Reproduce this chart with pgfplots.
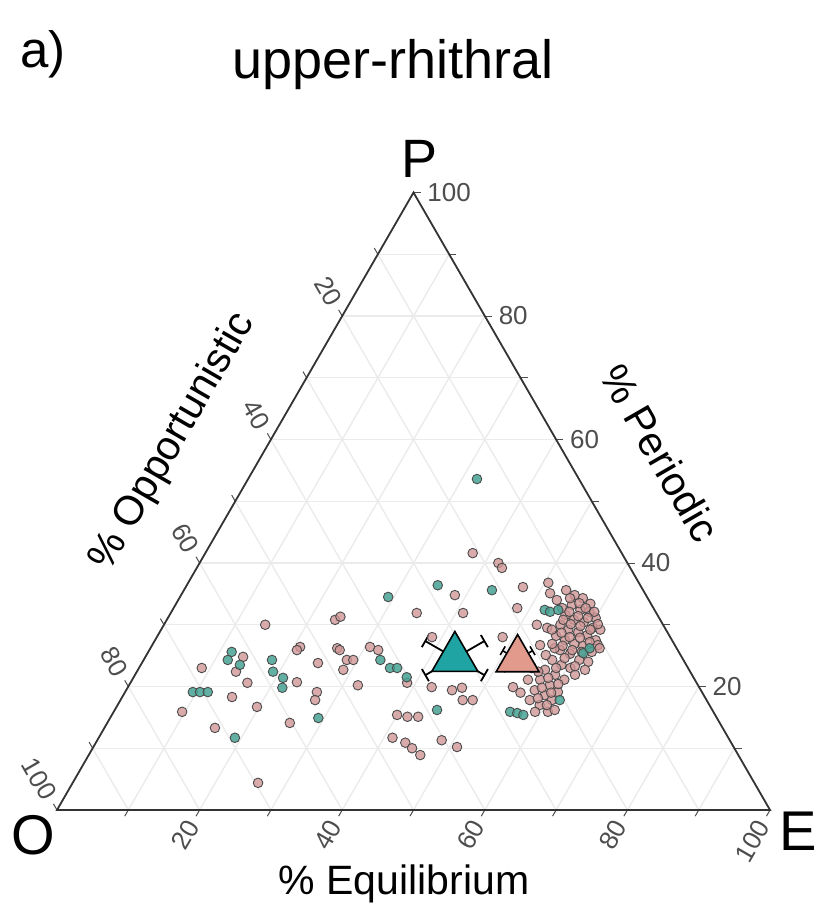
\documentclass[border=0pt]{standalone}
\usepackage{fontspec}
\setmainfont{Liberation Sans}
\usepackage{pgfplots}
\usepackage{pgfplotstable}
\usetikzlibrary{arrows.meta}
\pgfplotsset{compat=1.18}
\definecolor{tealpt}{HTML}{45A293}
\definecolor{pinkpt}{HTML}{D09696}
\definecolor{tealtri}{HTML}{1FA3A3}
\definecolor{pinktri}{HTML}{E29A8C}
\definecolor{gridc}{HTML}{EBEBEB}
\definecolor{tickc}{HTML}{4D4D4D}
\definecolor{edgec}{HTML}{333333}
\pgfplotsset{table/tern/.style={x expr={\thisrow{E}+0.5*\thisrow{P}}, y expr={0.8660254*\thisrow{P}}}}
\tikzset{ticklab/.style={font=\fontsize{13}{15}\selectfont, text=tickc, inner sep=0pt}}

% ternary compositions in percent: E = Equilibrium, P = Periodic (O = 100 - E - P)
\pgfplotstableread{
E P
37.5 41.6
41.9 40.0
42.8 39.2
38.4 34.8
47.3 36.1
48.2 32.7
41.0 31.9
50.5 36.8
51.6 35.1
53.1 34.0
48.5 28.0
54.4 26.7
54.0 19.9
55.5 19.0
38.6 28.0
34.5 31.9
23.6 30.8
24.1 31.3
26.2 26.2
26.7 25.9
28.5 24.3
29.4 24.3
28.8 22.7
24.7 23.8
20.9 26.4
30.7 26.4
32.1 25.9
38.8 20.6
32.1 20.2
26.9 19.1
27.3 17.8
42.6 19.9
45.7 19.4
46.9 19.8
48.0 17.8
49.4 17.8
40.0 15.4
41.6 15.1
43.1 15.1
41.2 11.7
43.4 10.9
44.8 10.0
46.5 8.9
48.3 11.3
51.0 10.2
14.2 30.0
20.7 25.9
23.3 20.7
16.4 20.6
15.4 18.3
19.7 16.7
9.6 15.9
15.5 13.3
25.6 14.1
26.0 4.4
13.7 24.8
13.9 22.4
8.8 23.0
53.6 35.6
55.2 34.8
56.6 34.3
58.1 33.4
55.6 33.2
57.2 32.4
58.6 32.1
60.0 31.1
55.5 31.6
57.1 30.8
58.7 30.4
60.4 29.5
55.6 30.0
57.1 29.2
58.7 28.8
60.2 28.3
61.8 27.5
55.9 28.2
57.5 27.5
59.1 26.9
60.5 26.6
62.2 25.6
57.6 25.9
59.3 25.3
61.1 24.3
62.5 24.0
57.3 24.3
59.0 23.5
60.5 23.0
57.1 22.7
58.9 21.9
60.6 21.1
57.2 21.1
59.0 20.2
60.7 19.1
59.1 18.6
57.3 19.4
60.5 17.8
59.2 17.0
60.9 15.9
57.4 17.8
56.3 22.4
54.3 23.5
56.0 25.1
56.7 26.2
61.6 29.2
62.5 26.7
62.7 22.7
61.7 21.9
52.3 30.0
54.0 29.5
54.8 34.3
56.5 33.5
57.8 32.7
59.3 32.1
54.5 32.7
55.8 32.1
57.4 31.4
58.9 31.1
60.8 30.1
55.6 30.8
57.0 30.1
58.5 29.8
60.2 29.2
54.8 29.2
56.4 28.7
57.9 28.0
59.4 27.9
61.1 27.2
63.0 26.2
56.0 26.9
57.6 26.6
59.3 25.9
60.8 25.6
58.9 24.6
61.0 23.3
58.5 23.0
58.2 21.4
60.1 20.4
58.1 19.8
59.8 19.0
58.4 18.1
60.2 17.0
61.7 16.2
59.1 15.9
55.5 21.1
55.1 23.0
}\pinkdata

\pgfplotstableread{
E P
32.1 53.6
35.2 36.4
43.2 35.6
29.2 34.5
52.2 32.4
53.1 32.1
54.1 32.4
11.7 25.6
11.8 24.3
13.9 23.5
18.0 24.3
19.1 22.4
21.0 21.4
21.7 19.8
9.5 19.1
10.5 19.1
11.6 19.1
19.1 11.7
29.2 14.9
33.2 24.3
35.2 23.0
36.2 23.0
45.2 16.2
55.6 15.9
56.7 15.7
57.7 15.4
61.1 25.4
61.6 26.2
38.3 21.5
61.6 17.8
}\tealdata

\pgfplotstableread{
E P
43.5 24.6
}\tealmean

\pgfplotstableread{
E P
52.4 24.4
}\pinkmean

\begin{document}
\begin{tikzpicture}
\begin{axis}[hide axis, scale only axis, width=412.5pt, height=461pt,
  xmin=-7.994, xmax=107.71, ymin=-15.708, ymax=113.604, clip=false]
\path (rel axis cs:0,0) rectangle (rel axis cs:1,1);
% grid lines every 10 %
\foreach \k in {10,20,...,90}{
  \pgfmathsetmacro\GA{\k/2}
  \pgfmathsetmacro\GB{100-\k/2}
  \pgfmathsetmacro\GH{0.8660254*\k}
  \pgfmathsetmacro\GC{50+\k/2}
  \pgfmathsetmacro\GD{0.8660254*(100-\k)}
  \pgfmathsetmacro\GE{100-\k}
  \pgfmathsetmacro\GF{(100-\k)/2}
  \edef\temp{\noexpand\draw[gridc, line width=0.7pt] (axis cs:\GA,\GH) -- (axis cs:\GB,\GH);
    \noexpand\draw[gridc, line width=0.7pt] (axis cs:\k,0) -- (axis cs:\GC,\GD);
    \noexpand\draw[gridc, line width=0.7pt] (axis cs:\GE,0) -- (axis cs:\GF,\GD);}
  \temp
}
% tick marks
\foreach \k in {10,20,...,100}{
  \pgfmathsetmacro\TPX{100-\k/2}
  \pgfmathsetmacro\TPXa{100-\k/2+1.0}
  \pgfmathsetmacro\TPY{0.8660254*\k}
  \pgfmathsetmacro\TEX{\k-0.5}
  \pgfmathsetmacro\TOX{(100-\k)/2}
  \pgfmathsetmacro\TOXa{(100-\k)/2-0.5}
  \pgfmathsetmacro\TOY{0.8660254*(100-\k)}
  \pgfmathsetmacro\TOYa{0.8660254*(100-\k)+0.866}
  \edef\temp{\noexpand\draw[tickc, line width=0.5pt] (axis cs:\TPX,\TPY) -- (axis cs:\TPXa,\TPY);
    \noexpand\draw[tickc, line width=0.5pt] (axis cs:\k,0) -- (axis cs:\TEX,-0.866);
    \noexpand\draw[tickc, line width=0.5pt] (axis cs:\TOX,\TOY) -- (axis cs:\TOXa,\TOYa);}
  \temp
}
% tick labels
\foreach \k in {20,40,...,100}{
  \pgfmathsetmacro\LPX{100-\k/2+1.9}
  \pgfmathsetmacro\LPY{0.8660254*\k}
  \pgfmathsetmacro\LEX{\k-0.95}
  \pgfmathsetmacro\LOX{(100-\k)/2-0.95}
  \pgfmathsetmacro\LOY{0.8660254*(100-\k)+1.65}
  \edef\temp{\noexpand\node[ticklab, anchor=west] at (axis cs:\LPX,\LPY) {\k};
    \noexpand\node[ticklab, anchor=east, rotate=60] at (axis cs:\LEX,-1.65) {\k};
    \noexpand\node[ticklab, anchor=east, rotate=-60] at (axis cs:\LOX,\LOY) {\k};}
  \temp
}
% triangle frame
\draw[edgec, line width=0.9pt] (axis cs:0,0) -- (axis cs:100,0) -- (axis cs:50,86.60254) -- cycle;

% sites
\addplot[only marks, mark=*, mark size=2.4pt,
  mark options={fill=pinkpt, draw=black!70, line width=0.45pt, fill opacity=0.8}]
  table[tern] {\pinkdata};
\addplot[only marks, mark=*, mark size=2.4pt,
  mark options={fill=tealpt, draw=black!70, line width=0.45pt, fill opacity=0.85}]
  table[tern] {\tealdata};

% group means
\addplot[only marks, mark=triangle*, mark size=13.3pt,
  mark options={fill=tealtri, draw=black, line width=0.8pt}] table[tern] {\tealmean};
\addplot[only marks, mark=triangle*, mark size=12.4pt,
  mark options={fill=pinktri, draw=black, line width=0.8pt}] table[tern] {\pinkmean};

% error bars
\addplot[black, line width=0.9pt, {Bar[width=7pt]}-{Bar[width=7pt]}] table[tern, row sep=\\] {E P\\ 40.67 21.77\\ 46.33 27.43\\};
\addplot[black, line width=0.9pt, {Bar[width=7pt]}-{Bar[width=7pt]}] table[tern, row sep=\\] {E P\\ 49.17 21.77\\ 37.83 27.43\\};
\addplot[black, line width=0.8pt, {Bar[width=5pt]}-{Bar[width=5pt]}] table[tern, row sep=\\] {E P\\ 50.94 22.94\\ 53.86 25.86\\};
\addplot[black, line width=0.8pt, {Bar[width=5pt]}-{Bar[width=5pt]}] table[tern, row sep=\\] {E P\\ 55.32 22.94\\ 49.48 25.86\\};

% texts
\node[font=\fontsize{25.5}{30}\selectfont, anchor=base west, inner sep=0pt] at (axis cs:-5.19,104.2) {a)};
\node[font=\fontsize{27}{32}\selectfont, anchor=base] at (axis cs:47.12,102.66) {upper-rhithral};
\node[font=\fontsize{27}{32}\selectfont, anchor=base, inner sep=0pt] at (axis cs:50.91,88.64) {P};
\node[font=\fontsize{28}{32}\selectfont, anchor=base, inner sep=0pt] at (axis cs:-3.3,-6.31) {O};
\node[font=\fontsize{28}{32}\selectfont, anchor=base, inner sep=0pt] at (axis cs:103.93,-5.61) {E};
\node[font=\fontsize{20.5}{24}\selectfont, anchor=base, inner sep=0pt] at (axis cs:48.67,-11.92) {\% Equilibrium};
\node[font=\fontsize{20.5}{24}\selectfont, rotate=60, inner sep=0pt] at (axis cs:16.27,51.61) {\% Opportunistic};
\node[font=\fontsize{20.5}{24}\selectfont, rotate=-60, inner sep=0pt] at (axis cs:84.57,50.07) {\% Periodic};
\end{axis}
\end{tikzpicture}
\end{document}
